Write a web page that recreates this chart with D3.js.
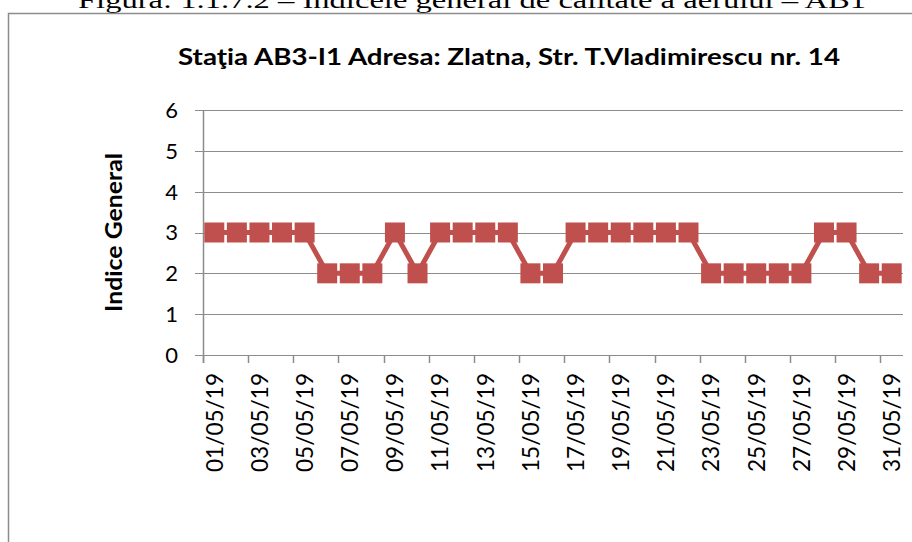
<!DOCTYPE html>
<html>
<head>
<meta charset="utf-8">
<script src="https://cdn.jsdelivr.net/npm/d3@7"></script>
<style>
  html, body { margin: 0; padding: 0; background: #fff; overflow: hidden; }
  svg { display: block; }
</style>
</head>
<body>
<svg id="chart" width="912" height="542"></svg>
<script>
// data
const dates = ["01/05/19","02/05/19","03/05/19","04/05/19","05/05/19","06/05/19","07/05/19","08/05/19",
  "09/05/19","10/05/19","11/05/19","12/05/19","13/05/19","14/05/19","15/05/19","16/05/19",
  "17/05/19","18/05/19","19/05/19","20/05/19","21/05/19","22/05/19","23/05/19","24/05/19",
  "25/05/19","26/05/19","27/05/19","28/05/19","29/05/19","30/05/19","31/05/19"];
const indiceGeneral = [3,3,3,3,3,2,2,2,3,2,3,3,3,3,2,2,3,3,3,3,3,3,2,2,2,2,2,3,3,2,2];
const yTicks = [0,1,2,3,4,5,6];

const caption = "Figura: 1.1.7.2 \u2013 Indicele general de calitate a aerului \u2013 AB1";
const title = "Staţia AB3-I1 Adresa: Zlatna, Str. T.Vladimirescu nr. 14";
const yLabel = "Indice General";

const svg = d3.select("#chart");
const font = "Lato, 'Open Sans', sans-serif";
const gridColor = "#8c8c8c";
const red = "#c0504d";

// caption above the chart (cut off at the top like in the scan)
svg.append("text")
    .attr("x", 78).attr("y", 8)
    .attr("font-family", "'Liberation Serif', 'Times New Roman', serif")
    .attr("font-size", 24)
    .attr("textLength", 788)
    .attr("lengthAdjust", "spacingAndGlyphs")
    .text(caption);

// chart frame
svg.append("rect")
    .attr("x", 8.5).attr("y", 13.5)
    .attr("width", 1000).attr("height", 600)
    .attr("fill", "none")
    .attr("stroke", gridColor)
    .attr("stroke-width", 1.5);

svg.append("text")
    .attr("x", 509).attr("y", 65)
    .attr("text-anchor", "middle")
    .attr("font-family", font)
    .attr("font-weight", "bold")
    .attr("font-size", 23)
    .attr("textLength", 662)
    .attr("lengthAdjust", "spacingAndGlyphs")
    .text(title);

const margin = { left: 203, top: 110, right: 9, bottom: 187 };
const width = 912 - margin.left - margin.right;
const height = 542 - margin.top - margin.bottom;

const g = svg.append("g").attr("transform", `translate(${margin.left},${margin.top})`);

const x = d3.scaleBand().domain(dates).range([0, width]).padding(0);
const y = d3.scaleLinear().domain([0, 6]).range([height, 0]);

// horizontal gridlines
g.selectAll(".grid")
    .data(yTicks)
    .enter()
    .append("line")
    .attr("class", "grid")
    .attr("x1", -8).attr("x2", width)
    .attr("y1", d => Math.round(y(d)) + 0.5)
    .attr("y2", d => Math.round(y(d)) + 0.5)
    .attr("stroke", gridColor)
    .attr("stroke-width", 1);

// y labels
g.selectAll(".ylab")
    .data(yTicks)
    .enter()
    .append("text")
    .attr("class", "ylab")
    .attr("x", -25)
    .attr("y", d => y(d))
    .attr("dy", "0.36em")
    .attr("text-anchor", "end")
    .attr("font-family", font)
    .attr("font-size", 22)
    .text(d => d);

// y axis line
g.append("line")
    .attr("x1", 0.5).attr("x2", 0.5)
    .attr("y1", 0).attr("y2", height + 8)
    .attr("stroke", gridColor)
    .attr("stroke-width", 1.5);

// x ticks at every second category boundary
const tickIdx = d3.range(0, dates.length, 2);
g.selectAll(".xtick")
    .data(tickIdx)
    .enter()
    .append("line")
    .attr("class", "xtick")
    .attr("x1", i => Math.round(x(dates[i])) + 0.5)
    .attr("x2", i => Math.round(x(dates[i])) + 0.5)
    .attr("y1", height).attr("y2", height + 8)
    .attr("stroke", gridColor)
    .attr("stroke-width", 1.5);

// x labels, rotated
g.selectAll(".xlab")
    .data(tickIdx)
    .enter()
    .append("text")
    .attr("class", "xlab")
    .attr("transform", i => `translate(${x(dates[i]) + x.bandwidth() / 2},${height + 18}) rotate(-90)`)
    .attr("dy", "0.36em")
    .attr("text-anchor", "end")
    .attr("font-family", font)
    .attr("font-size", 23)
    .attr("textLength", 99)
    .attr("lengthAdjust", "spacingAndGlyphs")
    .text(i => dates[i]);

// y axis title
svg.append("text")
    .attr("transform", `translate(114,${margin.top + height / 2}) rotate(-90)`)
    .attr("text-anchor", "middle")
    .attr("dy", "0.35em")
    .attr("font-family", font)
    .attr("font-weight", "bold")
    .attr("font-size", 22)
    .attr("textLength", 159)
    .attr("lengthAdjust", "spacingAndGlyphs")
    .text(yLabel);

const pts = dates.map((d, i) => ({ x: d, y: indiceGeneral[i] }));

const line = d3.line()
    .x(d => x(d.x) + x.bandwidth() / 2)
    .y(d => y(d.y));

g.append("path")
    .datum(pts)
    .attr("fill", "none")
    .attr("stroke", red)
    .attr("stroke-width", 5)
    .attr("stroke-linejoin", "round")
    .attr("d", line);

const s = 20;
g.selectAll(".marker")
    .data(pts)
    .enter()
    .append("rect")
    .attr("class", "marker")
    .attr("x", d => x(d.x) + x.bandwidth() / 2 - s / 2)
    .attr("y", d => y(d.y) - s / 2)
    .attr("width", s).attr("height", s)
    .attr("fill", red);
</script>
</body>
</html>
